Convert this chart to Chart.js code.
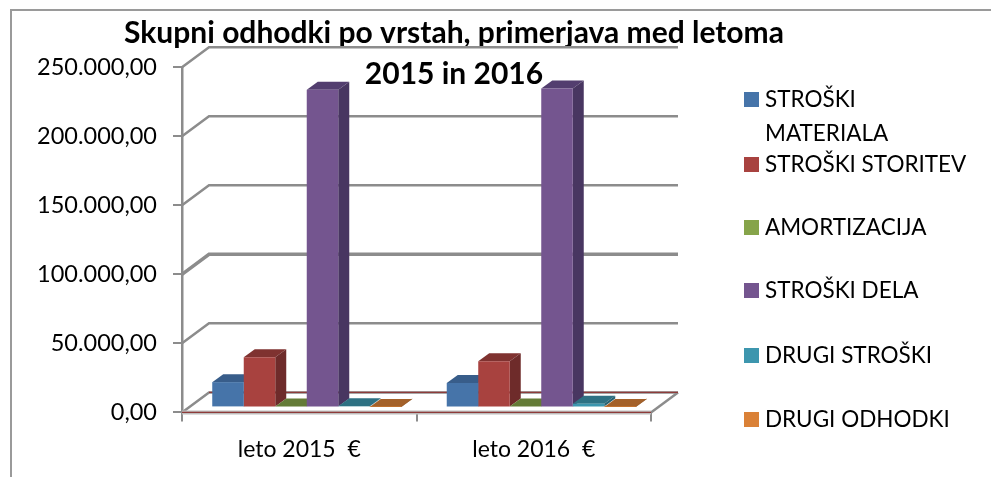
<!DOCTYPE html>
<html><head><meta charset="utf-8">
<style>html,body{margin:0;padding:0;background:#fff}#w{position:relative;width:991px;height:477px}</style>
<script src="https://cdn.jsdelivr.net/npm/chart.js@4/dist/chart.umd.min.js"></script>
</head><body><div id="w"><canvas id="c" width="991" height="477"></canvas></div>
<script>
const categories = ['leto 2015  €', 'leto 2016  €'];
const seriesNames = ['STROŠKI MATERIALA', 'STROŠKI STORITEV', 'AMORTIZACIJA', 'STROŠKI DELA', 'DRUGI STROŠKI', 'DRUGI ODHODKI'];
const strMateriala = [18300, 17600];
const strStoritev = [36400, 33500];
const amortizacija = [700, 700];
const strDela = [230000, 231000];
const drugiStroski = [800, 2700];
const drugiOdhodki = [300, 300];
const yTickLabels = ['0,00', '50.000,00', '100.000,00', '150.000,00', '200.000,00', '250.000,00'];
const frontColors = ['#4674A9', '#A8423F', '#86A44A', '#74558F', '#3D96AE', '#DA8137'];
const topColors = ['#385D8A', '#7F3230', '#647B37', '#533E6F', '#2E7183', '#A4612A'];
const sideColors = ['#2F4F75', '#6E2B2A', '#566A2F', '#483661', '#286272', '#8E5424'];
const titleLines = ['Skupni odhodki po vrstah, primerjava med letoma', '2015 in 2016'];

const FONT = 'Lato, Carlito, Calibri, sans-serif';
const GRID = '#8C8C8C';
const DEPTH = {x: 27, y: -20};       // floor / wall depth
const BAR_OFF = {x: 7.5, y: -5};     // bars sit inside the floor
const BAR_DEPTH = {x: 11, y: -8};

const scene3d = {
  id: 'scene3d',
  afterLayout(chart) {
    chart.titleBlock.right = 908;    // title is centred left of the plot's middle
  },
  beforeDraw(chart) {
    const c = chart.ctx;
    c.save();
    c.strokeStyle = '#9A9A9A'; c.lineWidth = 2;
    c.beginPath(); c.moveTo(11, 477); c.lineTo(11, 10); c.lineTo(991, 10); c.stroke();
    c.restore();
  },
  beforeDatasetsDraw(chart) {
    const c = chart.ctx, a = chart.chartArea, y = chart.scales.y;
    c.save();
    c.lineCap = 'butt';
    y.ticks.forEach(t => {
      const py = y.getPixelForValue(t.value);
      c.strokeStyle = GRID; c.lineWidth = t.value === 100000 ? 3.5 : 2.5;
      c.beginPath();
      c.moveTo(a.left, py);
      c.lineTo(a.left + DEPTH.x, py + DEPTH.y);
      c.lineTo(a.right + DEPTH.x, py + DEPTH.y);
      c.stroke();
    });
    const y0 = y.getPixelForValue(0);
    c.strokeStyle = GRID; c.lineWidth = 2.5;
    c.beginPath(); c.moveTo(a.right, y0); c.lineTo(a.right + DEPTH.x, y0 + DEPTH.y); c.stroke();
    c.strokeStyle = '#BDBDBD'; c.lineWidth = 4;
    c.beginPath(); c.moveTo(a.left, y0); c.lineTo(a.right, y0); c.stroke();
    c.strokeStyle = '#8E3B3A'; c.lineWidth = 1.4;
    c.beginPath(); c.moveTo(a.left + DEPTH.x, y0 + DEPTH.y); c.lineTo(a.right + DEPTH.x, y0 + DEPTH.y); c.stroke();
    c.beginPath(); c.moveTo(a.left, y0); c.lineTo(a.right, y0); c.stroke();
    // bar depth faces, then fronts are drawn by the library over them
    c.translate(BAR_OFF.x, BAR_OFF.y);
    chart.data.datasets.forEach((ds, i) => {
      chart.getDatasetMeta(i).data.forEach(b => {
        const l = b.x - b.width / 2, r = b.x + b.width / 2, t = b.y, bt = b.base;
        c.fillStyle = topColors[i];
        c.beginPath(); c.moveTo(l, t); c.lineTo(l + BAR_DEPTH.x, t + BAR_DEPTH.y);
        c.lineTo(r + BAR_DEPTH.x, t + BAR_DEPTH.y); c.lineTo(r, t); c.closePath(); c.fill();
        c.fillStyle = sideColors[i];
        c.beginPath(); c.moveTo(r, t); c.lineTo(r + BAR_DEPTH.x, t + BAR_DEPTH.y);
        c.lineTo(r + BAR_DEPTH.x, bt + BAR_DEPTH.y); c.lineTo(r, bt); c.closePath(); c.fill();
      });
    });
    c.restore();
    c.save();
    c.translate(BAR_OFF.x, BAR_OFF.y); // fronts shifted along with the faces
  },
  afterDatasetsDraw(chart) {
    chart.ctx.restore();
    const c = chart.ctx;
    c.save();
    // hand-made legend: wraps the first entry like the original
    const rows = [[['STROŠKI', 'MATERIALA'], 99], [[seriesNames[1]], 164], [[seriesNames[2]], 227], [[seriesNames[3]], 290], [[seriesNames[4]], 355], [[seriesNames[5]], 419]];
    c.font = '22.5px ' + FONT; c.textBaseline = 'middle'; c.textAlign = 'left';
    rows.forEach(([lines, cy], i) => {
      c.fillStyle = frontColors[i];
      c.fillRect(744, cy - 7, 15, 15);
      c.fillStyle = '#000';
      lines.forEach((s, k) => c.fillText(s, 765, cy + 1 + k * 34));
    });
    c.restore();
  }
};

const sets = [strMateriala, strStoritev, amortizacija, strDela, drugiStroski, drugiOdhodki];
new Chart(document.getElementById('c'), {
  type: 'bar',
  plugins: [scene3d],
  data: {
    labels: categories,
    datasets: sets.map((d, i) => ({label: seriesNames[i], data: d, backgroundColor: frontColors[i], borderWidth: 0, clip: false}))
  },
  options: {
    responsive: false, animation: false, devicePixelRatio: 1,
    layout: {padding: {left: 0, right: 340, top: 0, bottom: 0}},
    barPercentage: 1,
    categoryPercentage: 0.806,
    plugins: {
      legend: {display: false},
      tooltip: {enabled: false},
      title: {display: true, text: titleLines, color: '#000', align: 'center',
        font: {family: FONT, size: 30, weight: 'bold', lineHeight: 1.37},
        padding: {top: 13, bottom: -28}}
    },
    scales: {
      x: {
        grid: {offset: true, drawOnChartArea: false, tickLength: 9, color: GRID, lineWidth: 2},
        border: {display: false},
        ticks: {color: '#000', font: {family: FONT, size: 23}, padding: 14, maxRotation: 0}
      },
      y: {
        min: 0, max: 250000,
        afterFit(s) { s.width = 182; },
        grid: {drawOnChartArea: false, tickLength: 9, color: GRID, lineWidth: 2},
        border: {display: true, color: GRID, width: 2.5},
        ticks: {stepSize: 50000, color: '#000', font: {family: FONT, size: 23.5}, padding: 16,
          callback: (v) => yTickLabels[v / 50000]}
      }
    }
  }
});
</script></body></html>
